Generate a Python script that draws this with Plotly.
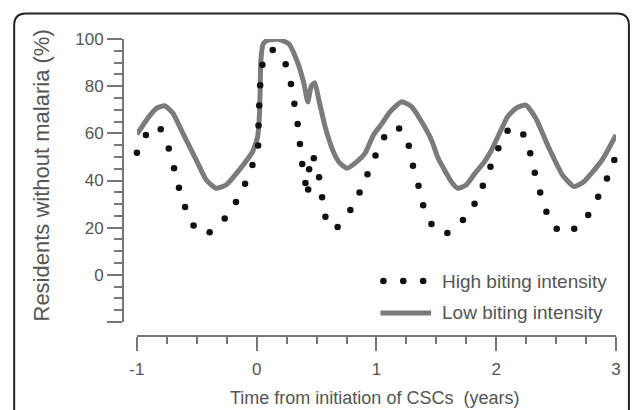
import plotly.graph_objects as go

# ---- data ----
high_x = [-1.00, -0.925, -0.801, -0.734, -0.690, -0.649, -0.598, -0.527, -0.393, -0.267,
          -0.173, -0.097, -0.035, 0.012, 0.015, 0.021, 0.029, 0.048, 0.134, 0.242,
          0.286, 0.315, 0.342, 0.361, 0.380, 0.407, 0.430, 0.438, 0.477, 0.521,
          0.546, 0.574, 0.676, 0.782, 0.859, 0.925, 0.992, 1.064, 1.189, 1.270,
          1.305, 1.351, 1.390, 1.459, 1.592, 1.722, 1.819, 1.888, 1.952, 2.018,
          2.095, 2.226, 2.284, 2.322, 2.367, 2.419, 2.505, 2.651, 2.768, 2.851,
          2.925, 2.986]
high_y = [51.8, 59.3, 61.7, 53.6, 45.2, 36.9, 28.8, 20.9, 18.1, 23.9,
          30.9, 38.6, 46.6, 54.8, 63.3, 71.8, 80.4, 89.1, 95.3, 89.3,
          80.9, 72.5, 64.0, 55.5, 47.0, 38.9, 36.2, 44.8, 49.4, 41.4,
          32.9, 24.6, 20.3, 27.5, 34.9, 42.7, 50.6, 58.3, 62.1, 54.7,
          46.3, 37.8, 29.5, 21.6, 17.7, 23.2, 30.1, 37.8, 45.8, 53.7,
          61.1, 59.5, 51.6, 43.3, 34.9, 26.8, 19.5, 19.5, 25.4, 33.1,
          40.8, 48.7]

low_x = [-1.00, -0.920, -0.837, -0.768, -0.699, -0.616, -0.505, -0.422, -0.339, -0.256,
         -0.145, -0.035, 0.008, 0.023, 0.029, 0.035, 0.054, 0.090, 0.187, 0.270,
         0.339, 0.394, 0.427, 0.456, 0.485, 0.519, 0.574, 0.643, 0.693, 0.754,
         0.837, 0.906, 0.975, 1.044, 1.114, 1.210, 1.293, 1.376, 1.459, 1.515,
         1.583, 1.625, 1.680, 1.749, 1.819, 1.902, 1.957, 2.040, 2.095, 2.164,
         2.247, 2.330, 2.441, 2.552, 2.649, 2.732, 2.884, 3.000]
low_y = [59.5, 65.7, 70.6, 71.7, 68.5, 60.0, 48.7, 40.3, 36.7, 38.1,
         44.5, 52.2, 58.5, 67.8, 78.4, 91.1, 97.9, 99.4, 99.8, 97.9,
         90.4, 81.2, 73.3, 80.1, 81.4, 74.2, 62.3, 51.9, 47.5, 45.2,
         48.0, 51.6, 59.3, 64.0, 69.2, 73.4, 71.3, 65.0, 57.2, 49.4,
         43.1, 39.5, 36.7, 38.1, 42.8, 48.0, 52.5, 61.4, 67.1, 70.6,
         72.0, 66.4, 53.7, 42.4, 37.4, 39.5, 48.7, 59.3]

x_ticks = [-1, 0, 1, 2, 3]
x_tick_text = ["-1", "0", "1", "2", "3"]
y_ticks = [-20, 0, 20, 40, 60, 80, 100]
y_tick_text = ["", "0", "20", "40", "60", "80", "100"]

series_names = ["High biting intensity", "Low biting intensity"]
x_title = "Time from initiation of CSCs  (years)"
y_title = "Residents without malaria (%)"

# ---- layout geometry (pixels) ----
W, H = 633, 410
ML, MR, MT, MB = 123, 14, 39, 74
PW, PH = W - ML - MR, H - MT - MB


def px(xp):
    return (xp - ML) / PW


def py(yp):
    return (H - MB - yp) / PH


axis_col = "#777777"
text_col = "#555555"
font_fam = "Liberation Sans, Arial, sans-serif"

fig = go.Figure()
fig.add_trace(go.Scatter(
    x=low_x, y=low_y, mode="lines", name=series_names[1],
    line=dict(color="#7b7b7b", width=5, shape="spline", smoothing=0.5),
    cliponaxis=False, showlegend=False, hoverinfo="skip"))
fig.add_trace(go.Scatter(
    x=high_x, y=high_y, mode="markers", name=series_names[0],
    marker=dict(color="#111111", size=6.5),
    cliponaxis=False, showlegend=False, hoverinfo="skip"))

fig.update_layout(
    width=W, height=H,
    margin=dict(l=ML, r=MR, t=MT, b=MB),
    paper_bgcolor="white", plot_bgcolor="white",
    font=dict(family=font_fam, color=text_col),
    showlegend=False,
    xaxis=dict(
        range=[-1, 3], domain=[px(137), 1], anchor="free", position=0,
        showgrid=False, zeroline=False, showline=True, linecolor=axis_col, linewidth=2,
        tickmode="array", tickvals=x_ticks, ticktext=x_tick_text,
        ticks="outside", ticklen=14, tickwidth=2, tickcolor=axis_col,
        tickfont=dict(size=17, color=text_col), ticklabelstandoff=4,
        minor=dict(dtick=0.25, ticks="outside", ticklen=7, tickwidth=2, tickcolor=axis_col, showgrid=False),
    ),
    yaxis=dict(
        range=[-20, 100], domain=[py(322), 1], anchor="free", position=0,
        showgrid=False, zeroline=False, showline=True, linecolor=axis_col, linewidth=2,
        tickmode="array", tickvals=y_ticks, ticktext=y_tick_text,
        ticks="outside", ticklen=15, tickwidth=2, tickcolor=axis_col,
        tickfont=dict(size=17, color=text_col),
        minor=dict(dtick=5, ticks="outside", ticklen=8, tickwidth=2, tickcolor=axis_col, showgrid=False),
    ),
)

annotations = [
    dict(text=y_title, x=px(40), y=py(176), xref="paper", yref="paper", textangle=-90,
         showarrow=False, font=dict(size=22, color=text_col), xanchor="center", yanchor="middle"),
    dict(text=x_title, x=px(376), y=py(398), xref="paper", yref="paper",
         showarrow=False, font=dict(size=18, color=text_col), xanchor="center", yanchor="middle"),
    dict(text=series_names[0], x=px(442), y=py(281), xref="paper", yref="paper",
         showarrow=False, font=dict(size=19, color=text_col), xanchor="left", yanchor="middle"),
    dict(text=series_names[1], x=px(442), y=py(312), xref="paper", yref="paper",
         showarrow=False, font=dict(size=19, color=text_col), xanchor="left", yanchor="middle"),
]
fig.update_layout(annotations=annotations)

shapes = []
# legend glyphs
for cx in (385, 405, 425):
    shapes.append(dict(type="circle", xref="paper", yref="paper",
                       xsizemode="pixel", ysizemode="pixel",
                       xanchor=px(cx), yanchor=py(281), x0=-3.3, x1=3.3, y0=-3.3, y1=3.3,
                       fillcolor="#111111", line=dict(width=0)))
shapes.append(dict(type="line", xref="paper", yref="paper",
                   x0=px(382), x1=px(433), y0=py(313), y1=py(313),
                   line=dict(color="#7b7b7b", width=5)))
# rounded frame
L, T, R, B, r = 13.5, 13.5, 632.0, 430.0, 12
path = (f"M {px(L)},{py(B)} L {px(L)},{py(T + r)} Q {px(L)},{py(T)} {px(L + r)},{py(T)} "
        f"L {px(R - r)},{py(T)} Q {px(R)},{py(T)} {px(R)},{py(T + r)} L {px(R)},{py(B)}")
shapes.append(dict(type="path", xref="paper", yref="paper", path=path,
                   line=dict(color="#222222", width=2)))
fig.update_layout(shapes=shapes)

fig.write_html("out.html", config={"displayModeBar": False},
               post_script="document.body.style.margin='0px';document.body.style.overflow='hidden';")
